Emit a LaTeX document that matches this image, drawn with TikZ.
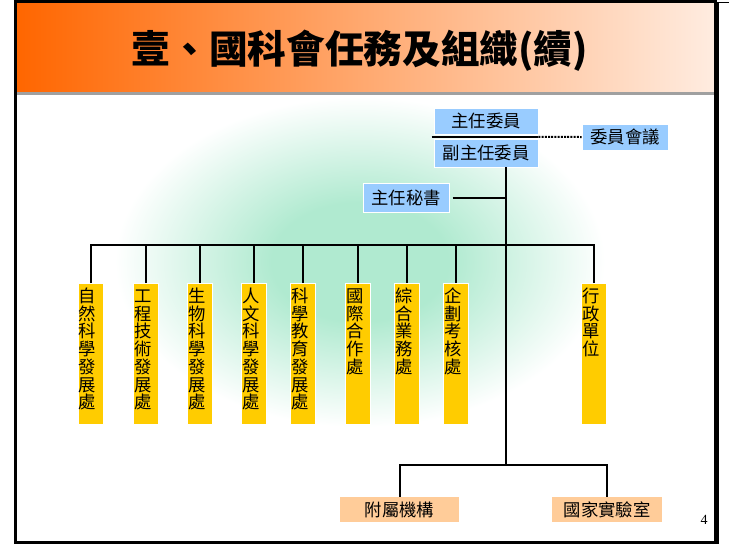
\documentclass[tikz,border=0pt]{standalone}
\usepackage{fontspec}
\newfontfamily\cjk{Noto Sans CJK TC}
\newfontfamily\numfont{Liberation Serif}
\usetikzlibrary{positioning}

\definecolor{bluebox}{RGB}{153,204,255}
\definecolor{goldbox}{RGB}{255,204,0}
\definecolor{peachbox}{RGB}{255,204,153}
\definecolor{glowgreen}{RGB}{176,234,208}
\definecolor{bannerleft}{RGB}{255,102,0}
\definecolor{bannermid}{RGB}{255,172,120}
\definecolor{bannerright}{RGB}{255,236,224}
\definecolor{stripgray}{RGB}{160,160,160}

\pgfdeclareradialshading{glow}{\pgfpoint{0bp}{0bp}}{color(0bp)=(glowgreen); color(9bp)=(glowgreen); color(25bp)=(white); color(50bp)=(white)}

\begin{document}
\begin{tikzpicture}[x=0.75pt, y=-0.75pt,
        block/.style={rectangle, fill=bluebox, draw=white, line width=0.6pt, inner sep=0pt, font=\cjk\fontsize{13}{15}\selectfont},
        office/.style={rectangle, fill=goldbox, draw=white, line width=0.6pt, anchor=north, text width=18pt, align=left, inner xsep=0.375pt, inner ysep=1.5pt, text height=12.75pt, text depth=90pt, font=\cjk\fontsize{13}{13.3}\selectfont},
        unitbox/.style={rectangle, fill=peachbox, inner sep=0pt, minimum height=18.75pt, font=\cjk\fontsize{13}{15}\selectfont},
        heading/.style={font=\cjk\bfseries\fontsize{29}{30}\selectfont},
        conn/.style={line width=1.5pt},
        dotconn/.style={line width=1.5pt, dash pattern=on 1.5pt off 0.9pt}]
        \useasboundingbox (0,0) rectangle (733,544);

        % Background
        \begin{scope}
            \clip (17,95) rectangle (714,541);
            \shade[shading=glow] (360,262) ellipse [x radius=245, y radius=165];
        \end{scope}
        \shade[left color=bannerleft, middle color=bannermid, right color=bannerright] (17,3) rectangle (714,92);
        \fill[stripgray] (17,92) rectangle (714,95);
        \fill (14,0) rectangle (717,3);
        \fill (717,1.5) rectangle (729,3);
        \fill (14,3) rectangle (17,544);
        \fill (714,3) rectangle (719,544);
        \fill (14,541) rectangle (719,544);

        % Title
        \node[heading] (title) at (360,51) {壹、國科會任務及組織(續)};

        % Nodes
        \node[block, minimum width=78pt, minimum height=19.5pt] (chair) at (486,121) {主任委員};
        \node[block, minimum width=78pt, minimum height=21pt] (vice) at (486,153) {副主任委員};
        \node[block, minimum width=64.5pt, minimum height=19.5pt] (council) at (625,137) {委員會議};
        \node[block, minimum width=64.5pt, minimum height=21.75pt] (secretary) at (406,197.5) {主任秘書};

        % Departments
        \node[office] (natural) at (91,283) {自\\然\\科\\學\\發\\展\\處};
        \node[office] (engineering) at (146,283) {工\\程\\技\\術\\發\\展\\處};
        \node[office] (life) at (200,283) {生\\物\\科\\學\\發\\展\\處};
        \node[office] (humanities) at (254,283) {人\\文\\科\\學\\發\\展\\處};
        \node[office] (education) at (303,283) {科\\學\\教\\育\\發\\展\\處};
        \node[office] (intl) at (358,283) {國\\際\\合\\作\\處};
        \node[office] (general) at (407,283) {綜\\合\\業\\務\\處};
        \node[office] (planning) at (456,283) {企\\劃\\考\\核\\處};
        \node[office] (admin) at (594,283) {行\\政\\單\\位};

        % Attached units
        \node[unitbox, minimum width=89.25pt] (affiliated) at (399.5,509.5) {附屬機構};
        \node[unitbox, minimum width=82.5pt] (lab) at (607,509.5) {國家實驗室};

        \node[font=\numfont\fontsize{10.5}{12}\selectfont] (page) at (704,520) {4};

        % Connectors
        \coordinate (hub) at (506,245);
        \coordinate (fork) at (506,465);

        \draw[conn] ([shift={(-2,2.5)}]chair.south west) -- ([shift={(0,2.5)}]chair.south east);
        \draw[dotconn] ([shift={(0,2.5)}]chair.south east) -- (council.west);
        \draw[conn] (vice.south -| hub) -- (fork);
        \draw[conn] ([xshift=2.5pt]secretary.east) -- (secretary.east -| hub);

        \draw[conn] (natural) |- (hub);
        \draw[conn] (engineering) |- (hub);
        \draw[conn] (life) |- (hub);
        \draw[conn] (humanities) |- (hub);
        \draw[conn] (education) |- (hub);
        \draw[conn] (intl) |- (hub);
        \draw[conn] (general) |- (hub);
        \draw[conn] (planning) |- (hub);
        \draw[conn] (admin) |- (hub);

        \draw[conn] (fork) -| (affiliated);
        \draw[conn] (fork) -| (lab);

    \end{tikzpicture}
\end{document}
